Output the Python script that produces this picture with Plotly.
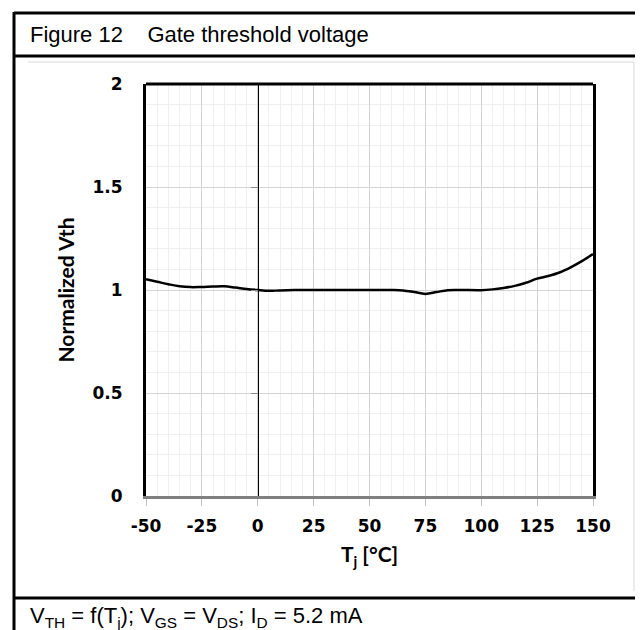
import plotly.graph_objects as go

# Gate threshold voltage vs junction temperature (normalized)
tj = [-50, -45, -40, -35, -30, -25, -20, -15, -10, -5, 0, 5, 10, 20, 30, 40, 50,
      60, 65, 70, 75, 80, 85, 90, 100, 105, 110, 115, 120, 125, 130, 135, 140, 145, 150]
vth_norm = [1.052, 1.040, 1.028, 1.018, 1.014, 1.015, 1.017, 1.018, 1.012, 1.005, 1.000,
            0.996, 0.998, 1.000, 1.000, 1.000, 1.000, 1.000, 0.998, 0.990, 0.981, 0.990,
            0.999, 1.000, 0.999, 1.003, 1.010, 1.020, 1.035, 1.055, 1.068, 1.085, 1.110,
            1.140, 1.175]

x_ticks = [-50, -25, 0, 25, 50, 75, 100, 125, 150]
y_ticks = [0, 0.5, 1, 1.5, 2]
y_tick_text = ["0", "0.5", "1", "1.5", "2"]
y_cross = 0   # Tj where the vertical axis crosses

W, H = 643, 630
L, R, T, B = 138, 585, 76, 488   # plot area in pixels


def px(x):
    return (x - L) / (R - L)


def py(y):
    return (B - y) / (B - T)


fig = go.Figure()
fig.add_trace(go.Scatter(
    x=tj, y=vth_norm, mode="lines", line=dict(color="black", width=2.5, shape="spline"),
    showlegend=False, hoverinfo="skip"
))
# empty trace so the crossing axis (y2) gets drawn
fig.add_trace(go.Scatter(x=[], y=[], yaxis="y2", showlegend=False, hoverinfo="skip"))

tick_font = dict(family="DejaVu Sans", size=17, color="black", weight="bold")
title_font = dict(family="Lato", size=21, color="black", weight="bold")

cross_pos = (y_cross - (-50)) / (150 - (-50))

fig.update_layout(
    width=W, height=H,
    margin=dict(l=L, r=W - R, t=T, b=H - B),
    paper_bgcolor="white", plot_bgcolor="white",
    xaxis=dict(
        range=[-50, 150], tickvals=x_ticks, ticktext=[str(v) for v in x_ticks],
        showgrid=True, gridcolor="#d4d4d4", gridwidth=1,
        minor=dict(dtick=5, showgrid=True, gridcolor="#efefef", gridwidth=1),
        showline=True, linecolor="#7f7f7f", linewidth=2.5,
        ticks="outside", ticklen=7, tickcolor="#bfbfbf", tickwidth=1,
        ticklabelstandoff=6, tickfont=tick_font, zeroline=False,
        title=dict(text="T<sub>j</sub> [°C]", font=title_font, standoff=13),
    ),
    yaxis=dict(
        range=[0, 2], tickvals=y_ticks, ticktext=y_tick_text,
        showgrid=True, gridcolor="#d4d4d4", gridwidth=1,
        minor=dict(dtick=0.1, showgrid=True, gridcolor="#efefef", gridwidth=1),
        showline=True, linecolor="black", linewidth=3, mirror=True,
        ticks="", ticklabelstandoff=17, tickfont=tick_font, zeroline=False,
        title=dict(text="Normalized Vth", font=title_font, standoff=13),
    ),
    # vertical axis crossing at Tj = 0
    yaxis2=dict(
        range=[0, 2], overlaying="y", anchor="free", position=cross_pos, side="left",
        tickvals=y_ticks[1:-1], showticklabels=False, ticks="outside", ticklen=7,
        tickcolor="#8c8c8c", showline=True, linecolor="black", linewidth=1,
        showgrid=False, zeroline=False,
    ),
)

# top border of plot area
fig.add_shape(type="line", xref="x domain", yref="y domain", x0=0, x1=1, y0=1, y1=1,
              line=dict(color="black", width=3))

# outer table frame
frame = dict(color="black", width=3)
fig.add_shape(type="line", xref="paper", yref="paper", x0=px(6), x1=px(6), y0=py(4), y1=py(H),
              line=frame)
for yy in (5, 48, 590):
    fig.add_shape(type="line", xref="paper", yref="paper", x0=px(6), x1=px(W), y0=py(yy), y1=py(yy),
                  line=frame)
# light chart-area border
gray = dict(color="#d9d9d9", width=1)
fig.add_shape(type="line", xref="paper", yref="paper", x0=px(20), x1=px(626), y0=py(54), y1=py(54),
              line=gray)
fig.add_shape(type="line", xref="paper", yref="paper", x0=px(626), x1=px(626), y0=py(54), y1=py(583),
              line=gray)

fig.add_annotation(
    xref="paper", yref="paper", x=px(20), y=py(27), xanchor="left", yanchor="middle",
    text="Figure 12&nbsp;&nbsp;&nbsp;&nbsp;Gate threshold voltage", showarrow=False,
    font=dict(family="Liberation Sans", size=22, color="black"),
)
fig.add_annotation(
    xref="paper", yref="paper", x=px(20), y=py(609), xanchor="left", yanchor="middle",
    text="V<sub>TH</sub> = f(T<sub>j</sub>); V<sub>GS</sub> = V<sub>DS</sub>; I<sub>D</sub> = 5.2 mA",
    showarrow=False, font=dict(family="Liberation Sans", size=22, color="black"),
)

fig.write_html("out.html")
